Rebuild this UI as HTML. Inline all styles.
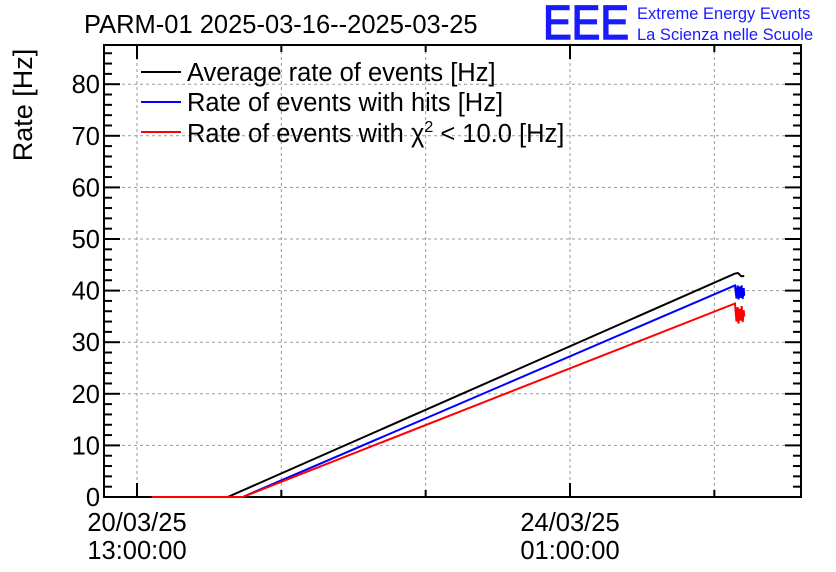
<!DOCTYPE html>
<html><head><meta charset="utf-8"><style>
body{margin:0;background:#fff;}
svg{display:block;font-family:"Liberation Sans",sans-serif;}
</style></head><body>
<svg id="c" width="836" height="572" viewBox="0 0 836 572">
<rect width="836" height="572" fill="#fff"/>
<text x="84" y="33" font-size="25.5">PARM-01 2025-03-16--2025-03-25</text>
<text x="543" y="39" font-size="48" fill="#1a1aff" stroke="#1a1aff" stroke-width="1.5" textLength="86" lengthAdjust="spacingAndGlyphs">EEE</text>
<text x="637" y="19" font-size="16.5" fill="#1a1aff">Extreme Energy Events</text>
<text x="637" y="40" font-size="16.5" fill="#1a1aff">La Scienza nelle Scuole</text>
<text transform="translate(32,105) rotate(-90)" text-anchor="middle" font-size="27">Rate [Hz]</text>
<g id="grid"></g><g id="axes"></g><g id="series"></g>
<g>
<line x1="141" y1="72" x2="181" y2="72" stroke="#000" stroke-width="2"/>
<text x="187" y="81" font-size="25.5">Average rate of events [Hz]</text>
<line x1="141" y1="102" x2="181" y2="102" stroke="#0000ff" stroke-width="2"/>
<text x="187" y="111" font-size="25.5">Rate of events with hits [Hz]</text>
<line x1="141" y1="132" x2="181" y2="132" stroke="#ff0000" stroke-width="2"/>
<text x="187" y="142" font-size="25.5">Rate of events with χ<tspan dy="-10" font-size="16">2</tspan><tspan dy="10"> &lt; 10.0 [Hz]</tspan></text>
</g>
</svg>
<script>
// hours since 20/03/25 13:00
const xTickHours=[0,28,56,84,112];
const xMajorLabels=[["20/03/25","13:00:00"],null,null,["24/03/25","01:00:00"],null];
const yTicks=[0,10,20,30,40,50,60,70,80];
const avgHours=[2.9,17.6,116,116.6,117.2,117.8];
const avgValues=[0,0,43.3,43.4,42.8,42.8];
const hitsHours=[2.9,20.5,116,116.3,116.5,116.7,116.9,117.1,117.3,117.5,117.7,117.8];
const hitsValues=[0,0,41,38.5,41,38.3,40.8,38.6,41,38.4,40.5,39];
const chiHours=[2.9,20.5,116,116.3,116.5,116.7,116.9,117.1,117.3,117.5,117.7,117.8];
const chiValues=[0,0,37.5,34,36.8,33.6,36.5,34.2,37,33.9,36.2,35];
const L=104,R=801,T=45,B=497,X0=137,PXH=433/84,PXV=5.16;
const xs=h=>X0+h*PXH, ys=v=>B-v*PXV;
const NS="http://www.w3.org/2000/svg";
function mk(t,a,p){const e=document.createElementNS(NS,t);for(const k in a)e.setAttribute(k,a[k]);p.appendChild(e);return e;}
const grid=document.getElementById('grid'),axes=document.getElementById('axes'),ser=document.getElementById('series');
xTickHours.forEach((h,i)=>{const x=xs(h);
 const g=mk('line',{x1:x,y1:T,x2:x,y2:B,stroke:'#999','stroke-dasharray':'3,3'},grid);
 
 
 const big=xMajorLabels[i]?14:7;
 const t=mk('line',{x1:x,y1:B,x2:x,y2:B-big,stroke:'#000','stroke-width':2},axes);
 
 
 const t2=mk('line',{x1:x,y1:T,x2:x,y2:T+big,stroke:'#000','stroke-width':2},axes);
 
 
 if(xMajorLabels[i]){xMajorLabels[i].forEach((s,j)=>{const tx=mk('text',{x:x,y:531+j*28,'text-anchor':'middle','font-size':25.5},axes);tx.textContent=s;
  
  });}
});
for(let v=0;v<=86;v+=2){const y=ys(v);const maj=v%10===0;const w=maj?16:8;
 [[L,L+w],[R,R-w]].forEach(p=>{const t=mk('line',{x1:p[0],y1:y,x2:p[1],y2:y,stroke:'#000','stroke-width':2},axes);
  
  });}
yTicks.forEach(v=>{const y=ys(v);
 if(v>0){const g=mk('line',{x1:L,y1:y,x2:R,y2:y,stroke:'#999','stroke-dasharray':'3,3'},grid);
 
 }
 const t=mk('text',{x:100,y:y+9,'text-anchor':'end','font-size':25.5},axes);t.textContent=v;
 
 });
const fr=mk('rect',{x:L,y:T,width:R-L,height:B-T,fill:'none',stroke:'#000','stroke-width':2},axes);


function line(hs,vs,c,n){const p=mk('polyline',{points:hs.map((h,i)=>xs(h)+','+ys(vs[i])).join(' '),fill:'none',stroke:c,'stroke-width':2},ser);
 
 }
line(avgHours,avgValues,'#000','series-average');
line(hitsHours,hitsValues,'#0000ff','series-hits');
line(chiHours,chiValues,'#ff0000','series-chi2');
</script>
</body></html>
